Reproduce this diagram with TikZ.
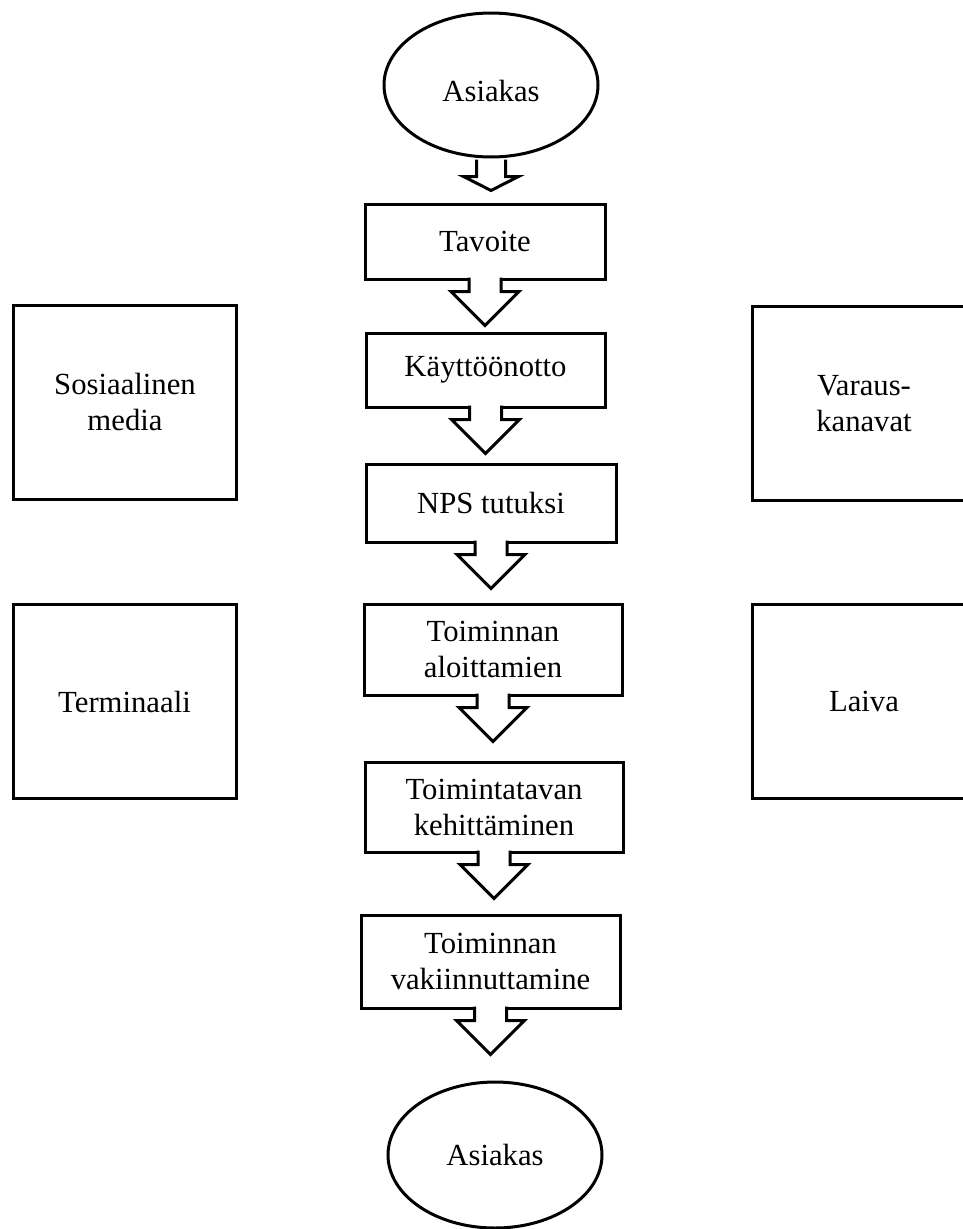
\documentclass[tikz,border=0pt]{standalone}
\usepackage{fontspec}
\setmainfont{Liberation Serif}
\usetikzlibrary{shapes.geometric}

\begin{document}
\begin{tikzpicture}[x=1pt, y=-1pt, line width=3pt]
	\useasboundingbox (0,0) rectangle (963,1229);
	\clip (0,0) rectangle (963,1229);
	
	\tikzstyle{every node}=[font=\fontsize{30.7}{36}\selectfont, align=center, inner sep=0pt]
	\tikzstyle{phase}=[rectangle, draw=black, fill=white]
	\tikzstyle{side}=[rectangle, draw=black, fill=white, minimum width=223, minimum height=194]
	\tikzstyle{customer}=[ellipse, draw=black, fill=white, minimum width=214, minimum height=144]
	\tikzstyle{blockarrow}=[draw=black, fill=white, line join=miter]
	
	% CUSTOMER
	\path (491, 85) node[customer, text height=34pt] (top) {Asiakas};
	\path (495, 1155) node[customer, minimum height=146] (bottom) {Asiakas};
	
	% PHASES
	\path (485, 241.5) node[phase, minimum width=240, minimum height=75] (tav) {Tavoite};
	\path (485.5, 370) node[phase, minimum width=239, minimum height=74] (kay) {Käyttöönotto};
	\path (491, 503) node[phase, minimum width=250, minimum height=78] (nps) {NPS tutuksi};
	\path (493, 649.5) node[phase, minimum width=258, minimum height=91] (alo) {Toiminnan\\aloittamien};
	\path (494, 807) node[phase, minimum width=258, minimum height=90] (keh) {Toimintatavan\\kehittäminen};
	\path (490.5, 961.5) node[phase, minimum width=259, minimum height=93] (vak) {Toiminnan\\vakiinnuttamine};
	
	% SIDE
	\path (125, 402) node[side] (some) {Sosiaalinen\\media};
	\path (124.5, 701.5) node[side] (term) {Terminaali};
	\path (864, 403.5) node[side] (varaus) {Varaus-\\kanavat};
	\path (864, 701) node[side] (laiva) {Laiva};
	
	% ARROWS
	\draw[blockarrow, shift={(top.south)}] (-14.5,1) -- (-14.5,18) -- (-27.5,18) -- (0,32) -- (27.5,18) -- (14.5,18) -- (14.5,1);
	\foreach \b in {tav, kay, nps, alo, keh, vak}
		\draw[blockarrow, shift={(\b.south)}] (-16,-3) -- (-16,11) -- (-34,11) -- (0,45) -- (34,11) -- (16,11) -- (16,-3);
	
\end{tikzpicture}
\end{document}
